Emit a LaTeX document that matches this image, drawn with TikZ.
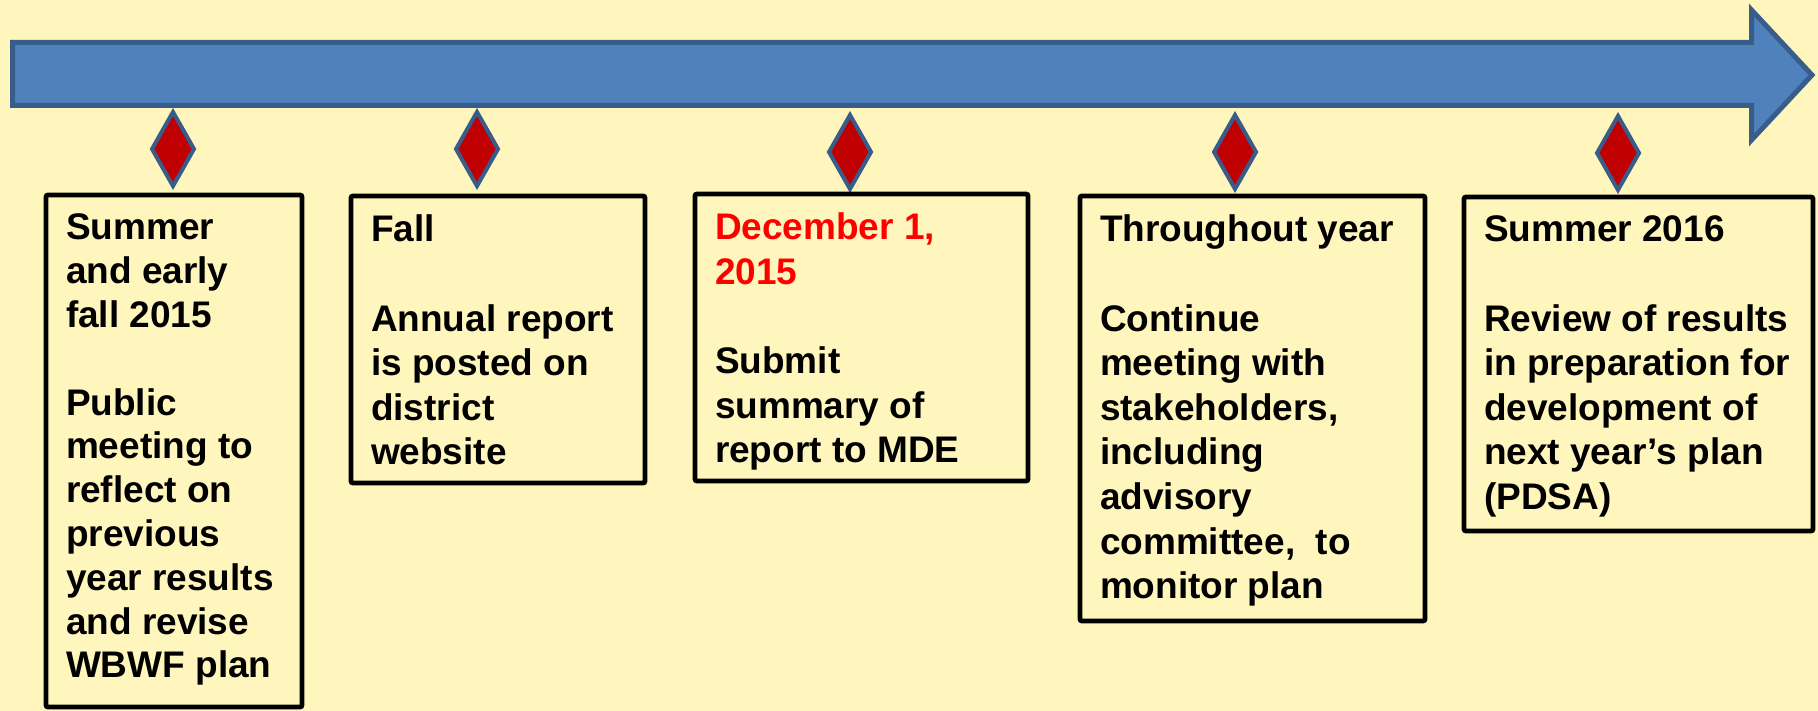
\documentclass[tikz,border=0pt]{standalone}
\usepackage{fontspec}
\setmainfont{Liberation Sans}
\usetikzlibrary{shapes.geometric}
\definecolor{bgyellow}{RGB}{255,246,189}
\definecolor{arrowfill}{RGB}{79,129,189}
\definecolor{arrowline}{RGB}{56,93,138}
\definecolor{diamfill}{RGB}{192,0,0}
\definecolor{datered}{RGB}{255,0,0}
\begin{document}
\begin{tikzpicture}[x=0.5pt,y=-0.5pt,
  timeline/.style={fill=arrowfill,draw=arrowline,line width=2.5pt,line join=miter},
  marker/.style={diamond,draw=arrowline,fill=diamfill,line width=2pt,inner sep=0pt,outer sep=0pt,minimum width=21pt,minimum height=37pt},
  eventbox/.style={draw=black,line width=2.4pt,rounded corners=1pt,inner sep=0pt,outer sep=0pt},
  eventtext/.style={anchor=north west,inner sep=0pt,outer sep=0pt,align=left,font=\fontsize{18.5}{22.3}\selectfont\bfseries}]
\useasboundingbox[fill=bgyellow] (0,0) rectangle (1818,711);
% timeline arrow
\draw[timeline] (12.5,42.5) -- (1751.5,42.5) -- (1751.5,10) -- (1812,75) -- (1751.5,140) -- (1751.5,105.5) -- (12.5,105.5) -- cycle;
% diamonds
\node[marker] (d1) at (173,149) {};
\node[marker] (d2) at (477,149) {};
\node[marker] (d3) at (850,152) {};
\node[marker] (d4) at (1235,152) {};
\node[marker] (d5) at (1618,153) {};
% boxes
\node[eventbox,minimum width=128pt,minimum height=256pt] (b1) at (174,451) {};
\node[eventbox,minimum width=147pt,minimum height=143.5pt] (b2) at (498,339.5) {};
\node[eventbox,minimum width=166.5pt,minimum height=143.5pt] (b3) at (861.5,337.5) {};
\node[eventbox,minimum width=172.5pt,minimum height=212.5pt] (b4) at (1252.5,408.5) {};
\node[eventbox,minimum width=174.5pt,minimum height=167pt] (b5) at (1638.5,364) {};
% texts
\node[eventtext,font=\fontsize{18.5}{21.9}\selectfont\bfseries] (t1) at ([shift={(10pt,-9.5pt)}]b1.north west) {Summer\\and early\\fall 2015\\[21.9pt]Public\\meeting to\\reflect on\\previous\\year results\\and revise\\WBWF plan};
\node[eventtext] (t2) at ([shift={(10pt,-9.5pt)}]b2.north west) {Fall\\[22.3pt]Annual report\\is posted on\\district\\website};
\node[eventtext] (t3) at ([shift={(10pt,-9.5pt)}]b3.north west) {\textcolor{datered}{December 1,}\\\textcolor{datered}{2015}\\[22.3pt]Submit\\summary of\\report to MDE};
\node[eventtext] (t4) at ([shift={(10pt,-9.5pt)}]b4.north west) {Throughout year\\[22.3pt]Continue\\meeting with\\stakeholders,\\including\\advisory\\committee,~ to\\monitor plan};
\node[eventtext] (t5) at ([shift={(10pt,-9.5pt)}]b5.north west) {Summer 2016\\[22.3pt]Review of results\\in preparation for\\development of\\next year’s plan\\(PDSA)};
\end{tikzpicture}
\end{document}
